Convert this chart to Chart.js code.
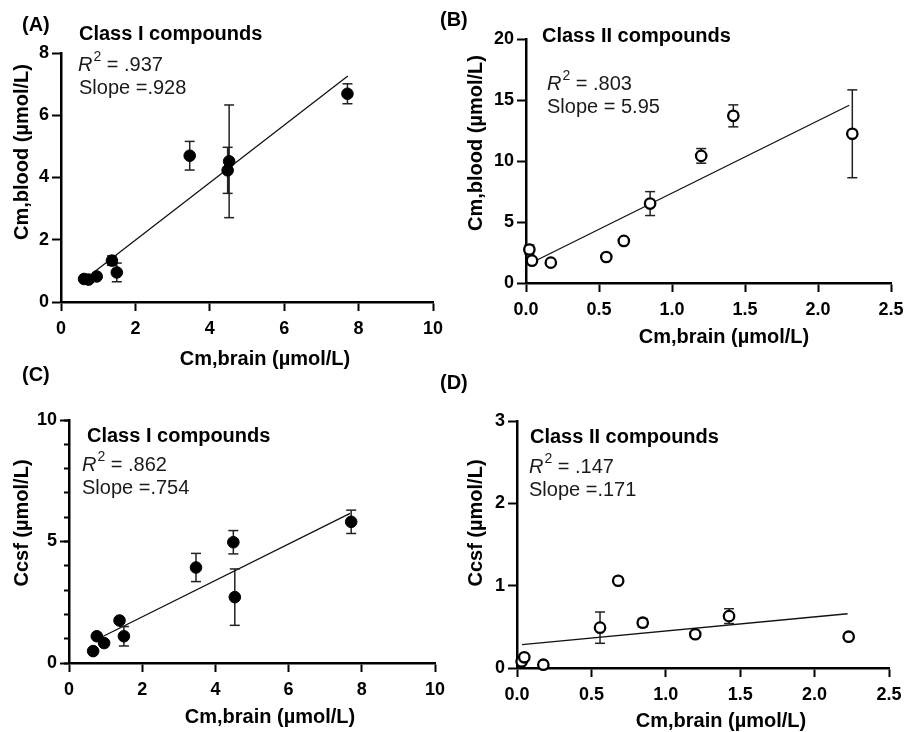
<!DOCTYPE html>
<html>
<head>
<meta charset="utf-8">
<script src="https://cdn.jsdelivr.net/npm/chart.js@4.4.0/dist/chart.umd.min.js"></script>
<style>
body{margin:0;background:#fff;overflow:hidden;}
#wrap{position:relative;width:904px;height:732px;background:#fff;overflow:hidden;}
#wrap canvas{position:absolute;left:0;top:0;}
</style>
</head>
<body>
<div id="wrap">
<canvas id="chartA" width="960" height="732"></canvas>
<canvas id="chartB" width="960" height="732"></canvas>
<canvas id="chartC" width="960" height="732"></canvas>
<canvas id="chartD" width="960" height="732"></canvas>
</div>
<script>
// (A) class I, Cm,blood vs Cm,brain
const aBrain=[0.62,0.74,0.96,1.37,1.50,3.46,4.48,4.52,7.70];
const aBlood=[0.74,0.72,0.82,1.33,0.95,4.70,4.23,4.52,6.69];
const aErr=[0,0,0,0.15,0.30,0.46,0.74,1.81,0.32];
const aFitX=[0.83,7.71];
const aFitY=[0.91,7.26];

// (B) class II, Cm,blood vs Cm,brain
const bBrain=[0.023,0.041,0.17,0.55,0.67,0.85,1.20,1.42,2.235];
const bBlood=[2.74,1.83,1.67,2.13,3.45,6.51,10.42,13.7,12.23];
const bErr=[0.37,0,0,0,0,0.98,0.6,0.9,3.6];
const bFitX=[0.062,2.214];
const bFitY=[1.8,14.57];

// (C) class I, Ccsf vs Cm,brain
const cBrain=[0.66,0.76,0.96,1.38,1.50,3.47,4.49,4.53,7.71];
const cCsf=[0.49,1.10,0.82,1.75,1.10,3.93,4.97,2.71,5.81];
const cErr=[0,0,0,0,0.40,0.58,0.48,1.16,0.48];
const cFitX=[0.84,7.68];
const cFitY=[1.03,6.16];

// (D) class II, Ccsf vs Cm,brain
const dBrain=[0.031,0.049,0.177,0.558,0.68,0.845,1.198,1.425,2.229];
const dCsf=[0.08,0.13,0.04,0.49,1.06,0.55,0.41,0.63,0.38];
const dErr=[0,0,0,0.19,0,0.05,0,0.09,0];
const dFitX=[0.034,2.222];
const dFitY=[0.283,0.659];

const fam='"Liberation Sans", Arial, sans-serif';
Chart.defaults.font.family=fam;
const W=960,H=732;

function pts(xs,ys){
  return xs.map((x,i)=>({x:x,y:ys[i]}));
}

// each error bar = two end points (caps) + a null to break the line
function errPts(xs,ys,es){
  let out=[];
  for(let i=0;i<xs.length;i++){
    if(!es[i]) continue;
    out.push({x:xs[i],y:ys[i]-es[i]},{x:xs[i],y:ys[i]+es[i]},{x:xs[i],y:null});
  }
  return out;
}

function textPlugin(items){
  return {
    id:'panelText',
    afterDraw(chart){
      const ctx=chart.ctx;
      items.forEach(it=>{
        ctx.save();
        ctx.fillStyle=it.color||'#000';
        ctx.textBaseline='middle';
        ctx.textAlign=it.align||'left';
        ctx.translate(it.x,it.y);
        if(it.rotate) ctx.rotate(it.rotate);
        if(it.r2){
          ctx.font='italic 20px '+fam;
          ctx.fillText('R',0,0);
          let w=ctx.measureText('R').width;
          ctx.font='14px '+fam;
          ctx.fillText('2',w+1,-8);
          w+=ctx.measureText('2').width+1;
          ctx.font='20px '+fam;
          ctx.fillText(it.text,w,0);
        }else{
          ctx.font=it.font;
          ctx.fillText(it.text,0,0);
        }
        ctx.restore();
      });
    }
  };
}

function axis(min,max,step,fmt,size,pad){
  return {
    type:'linear',min:min,max:max,
    afterFit:function(s){ if(s.isHorizontal()) s.height=size; else s.width=size; },
    ticks:{stepSize:step,color:'#000',font:{size:18,weight:'bold'},padding:pad,
      callback:fmt},
    grid:{drawOnChartArea:false,drawTicks:true,tickLength:9,tickWidth:2,tickColor:'#000'},
    border:{display:true,color:'#000',width:2.5}
  };
}

function makePanel(id,p){
  const yW=40,xH=60;
  const filled=p.filled;
  let scales={
    x:axis(0,p.xMax,p.xStep,p.xFmt,xH,7),
    y:axis(0,p.yMax,p.yStep,v=>String(v),yW,3)
  };
  scales.y.weight=1;
  if(p.minorStep){
    // minor ticks on a second, zero-width axis next to the chart area
    scales.yMinor={
      type:'linear',position:'left',min:0,max:p.yMax,weight:0,
      afterFit:function(s){ s.width=0; },
      ticks:{display:false,stepSize:p.minorStep},
      grid:{drawOnChartArea:false,drawTicks:true,tickLength:5,tickWidth:2,tickColor:'#000'},
      border:{display:false}
    };
  }
  new Chart(document.getElementById(id),{
    type:'scatter',
    data:{datasets:[
      {
        label:'points',data:pts(p.xs,p.ys),order:0,clip:false,
        pointRadius:filled?5.8:5.2,pointHoverRadius:5,
        backgroundColor:filled?'#000':'#fff',borderColor:'#000',
        borderWidth:filled?1:2.3
      },
      {
        label:'error',data:errPts(p.xs,p.ys,p.errs),order:1,clip:false,
        showLine:true,borderColor:'#222',borderWidth:1.5,spanGaps:false,
        pointStyle:'line',pointRadius:5,pointBorderWidth:1.5,pointBorderColor:'#222'
      },
      {
        label:'fit',data:pts(p.fitX,p.fitY),order:2,clip:false,
        showLine:true,borderColor:'#111',borderWidth:1.3,pointRadius:0
      }
    ]},
    options:{
      responsive:false,animation:false,
      layout:{padding:{left:p.area.l-yW,top:p.area.t,right:W-p.area.r,bottom:H-p.area.b-xH}},
      plugins:{legend:{display:false},tooltip:{enabled:false}},
      scales:scales
    },
    plugins:[textPlugin(p.texts)]
  });
}

const bold20='bold 20px '+fam;
const reg20='20px '+fam;
const up=-Math.PI/2;
const intFmt=v=>String(v);
const decFmt=v=>v.toFixed(1);

makePanel('chartA',{
  xs:aBrain,ys:aBlood,errs:aErr,fitX:aFitX,fitY:aFitY,filled:true,
  xMax:10,xStep:2,xFmt:intFmt,yMax:8,yStep:2,
  area:{l:61,t:53,r:433,b:302},
  texts:[
    {text:'(A)',x:22,y:25,font:bold20},
    {text:'Class I compounds',x:79,y:34,font:bold20},
    {text:' = .937',x:78,y:65,r2:true,color:'#1a1a1a'},
    {text:'Slope =.928',x:79,y:88,font:reg20,color:'#1a1a1a'},
    {text:'Cm,brain (µmol/L)',x:265,y:359,font:bold20,align:'center'},
    {text:'Cm,blood (µmol/L)',x:22,y:152,font:bold20,align:'center',rotate:up}
  ]
});

makePanel('chartB',{
  xs:bBrain,ys:bBlood,errs:bErr,fitX:bFitX,fitY:bFitY,filled:false,
  xMax:2.5,xStep:0.5,xFmt:decFmt,yMax:20,yStep:5,
  area:{l:526,t:39,r:891,b:283},
  texts:[
    {text:'(B)',x:440,y:20,font:bold20},
    {text:'Class II compounds',x:542,y:36,font:bold20},
    {text:' = .803',x:547,y:84,r2:true,color:'#1a1a1a'},
    {text:'Slope = 5.95',x:547,y:107,font:reg20,color:'#1a1a1a'},
    {text:'Cm,brain (µmol/L)',x:724,y:337,font:bold20,align:'center'},
    {text:'Cm,blood (µmol/L)',x:476,y:143,font:bold20,align:'center',rotate:up}
  ]
});

makePanel('chartC',{
  xs:cBrain,ys:cCsf,errs:cErr,fitX:cFitX,fitY:cFitY,filled:true,
  xMax:10,xStep:2,xFmt:intFmt,yMax:10,yStep:5,minorStep:1,
  area:{l:69,t:420,r:435,b:663},
  texts:[
    {text:'(C)',x:22,y:375,font:bold20},
    {text:'Class I compounds',x:87,y:436,font:bold20},
    {text:' = .862',x:82,y:465,r2:true,color:'#1a1a1a'},
    {text:'Slope =.754',x:82,y:488,font:reg20,color:'#1a1a1a'},
    {text:'Cm,brain (µmol/L)',x:270,y:717,font:bold20,align:'center'},
    {text:'Ccsf (µmol/L)',x:22,y:523,font:bold20,align:'center',rotate:up}
  ]
});

makePanel('chartD',{
  xs:dBrain,ys:dCsf,errs:dErr,fitX:dFitX,fitY:dFitY,filled:false,
  xMax:2.5,xStep:0.5,xFmt:decFmt,yMax:3,yStep:1,
  area:{l:517,t:421,r:889,b:668},
  texts:[
    {text:'(D)',x:440,y:383,font:bold20},
    {text:'Class II compounds',x:530,y:437,font:bold20},
    {text:' = .147',x:529,y:467,r2:true,color:'#1a1a1a'},
    {text:'Slope =.171',x:529,y:490,font:reg20,color:'#1a1a1a'},
    {text:'Cm,brain (µmol/L)',x:721,y:721,font:bold20,align:'center'},
    {text:'Ccsf (µmol/L)',x:476,y:523,font:bold20,align:'center',rotate:up}
  ]
});
</script>
</body>
</html>
